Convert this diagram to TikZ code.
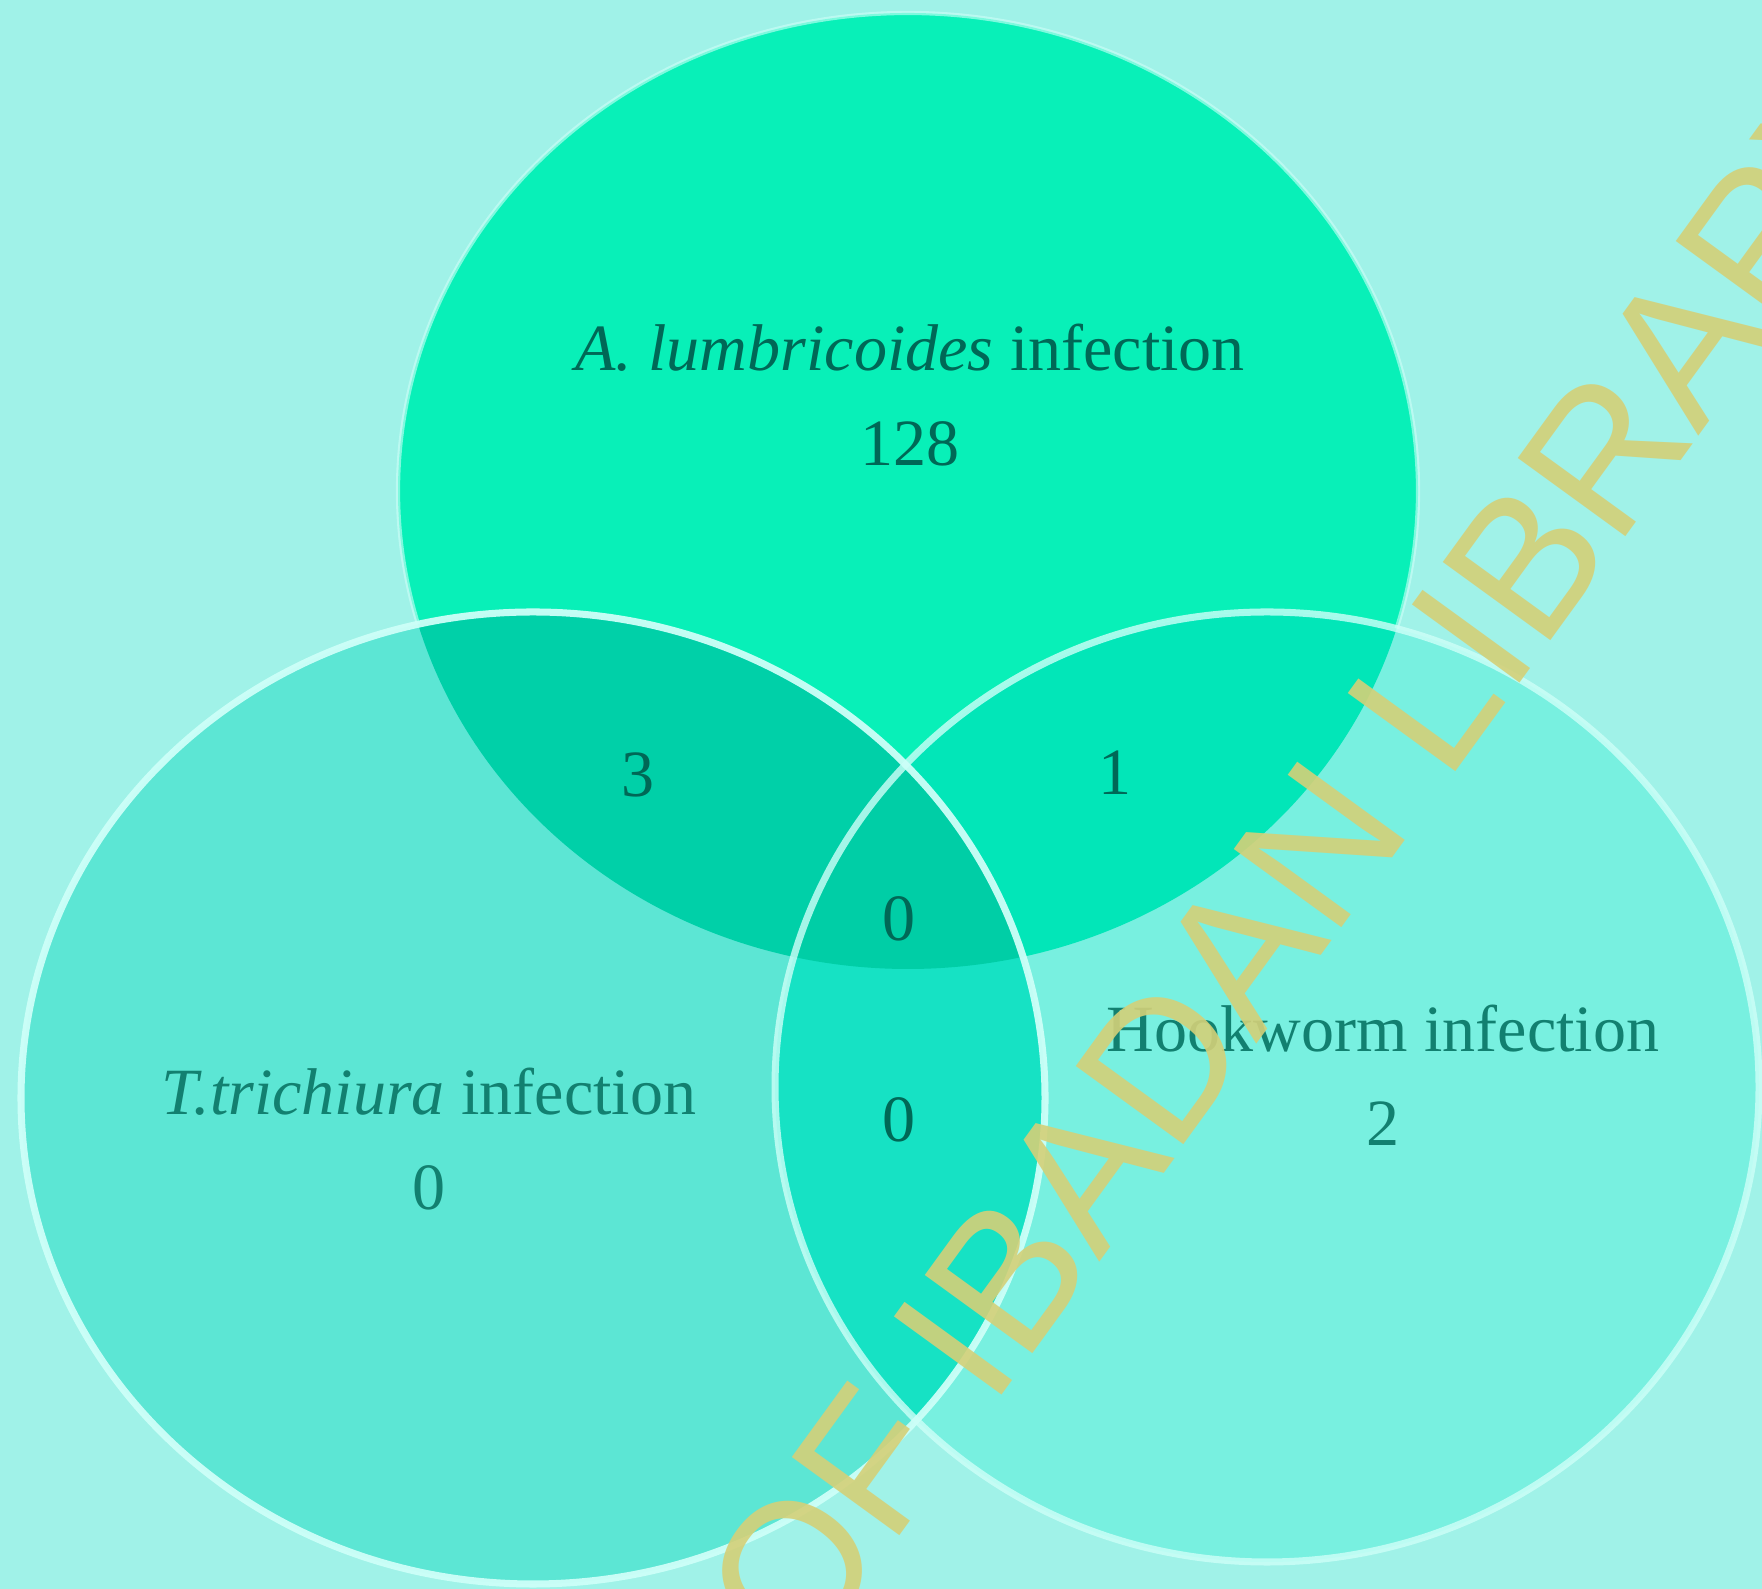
\documentclass[tikz,border=0pt]{standalone}
\usepackage{fontspec}
\setmainfont{Liberation Serif}
\newfontfamily\wmfont{Liberation Sans}
\usetikzlibrary{positioning}
\definecolor{bgaqua}{RGB}{160,242,232}
\definecolor{ascgreen}{RGB}{8,240,184}
\definecolor{trigreen}{RGB}{92,230,212}
\definecolor{hookgreen}{RGB}{120,240,224}
\definecolor{asctri}{RGB}{0,208,168}
\definecolor{aschook}{RGB}{2,230,184}
\definecolor{trihook}{RGB}{22,226,196}
\definecolor{allthree}{RGB}{0,206,166}
\definecolor{rimwhite}{RGB}{205,255,248}
\definecolor{darkteal}{RGB}{0,104,86}
\definecolor{midteal}{RGB}{18,128,112}
\definecolor{wmyellow}{RGB}{212,208,120}
% the three sets
\newcommand{\ascset}{(9.08,10.98) ellipse [x radius=5.10, y radius=4.78]}
\newcommand{\triset}{(5.33,4.91) ellipse [x radius=5.12, y radius=4.86]}
\newcommand{\hookset}{(12.67,5.02) ellipse [x radius=4.92, y radius=4.75]}

\begin{document}
\begin{tikzpicture}[
        rim/.style={draw=rimwhite, line width=2pt},
        setlbl/.style={font=\fontsize{18.8}{22}\selectfont, inner sep=0pt, anchor=base},
        numlbl/.style={font=\fontsize{18.8}{22}\selectfont, inner sep=0pt, text=darkteal}
    ]
        \useasboundingbox (0,0) rectangle (17.62,15.89);
        \clip (0,0) rectangle (17.62,15.89);
        \fill[bgaqua] (0,0) rectangle (17.62,15.89);

        % plain sets
        \fill[ascgreen, rim, line width=1.2pt, draw opacity=0.6] \ascset;
        \fill[trigreen] \triset;
        \fill[hookgreen] \hookset;

        % overlaps
        \begin{scope}
            \clip \ascset;
            \fill[asctri] \triset;
            \fill[aschook] \hookset;
        \end{scope}
        \begin{scope}
            \clip \triset;
            \fill[trihook] \hookset;
            \clip \ascset;
            \fill[allthree] \hookset;
        \end{scope}

        % rims
        \draw[rim, draw opacity=0.95] \triset;
        \draw[rim, draw opacity=0.8] \hookset;

        % labels
        \node[setlbl, text=darkteal] (ASC) at (9.10,12.18) {\textit{A. lumbricoides} infection};
        \node[numlbl, below=0.48cm of ASC] (ASCN) {128};
        \node[setlbl, text=midteal] (TRI) at (4.29,4.74) {\textit{T.trichiura} infection};
        \node[numlbl, text=midteal, below=0.48cm of TRI] (TRIN) {0};
        \node[setlbl, text=midteal] (HOOK) at (13.83,5.37) {Hookworm infection};
        \node[numlbl, text=midteal, below=0.48cm of HOOK] (HOOKN) {2};
        \node[numlbl] (AT) at (6.38,8.14) {3};
        \node[numlbl] (AH) at (11.15,8.16) {1};
        \node[numlbl] (ATH) at (8.99,6.70) {0};
        \node[numlbl] (TH) at (8.99,4.69) {0};

        % watermark
        \node[text=wmyellow, text opacity=0.9, font=\wmfont\fontsize{55}{64}\selectfont,
              inner sep=0pt, anchor=base west, rotate=54] (WM) at (8.02,-0.82) {OF IBADAN LIBRARY};
    \end{tikzpicture}
\end{document}
